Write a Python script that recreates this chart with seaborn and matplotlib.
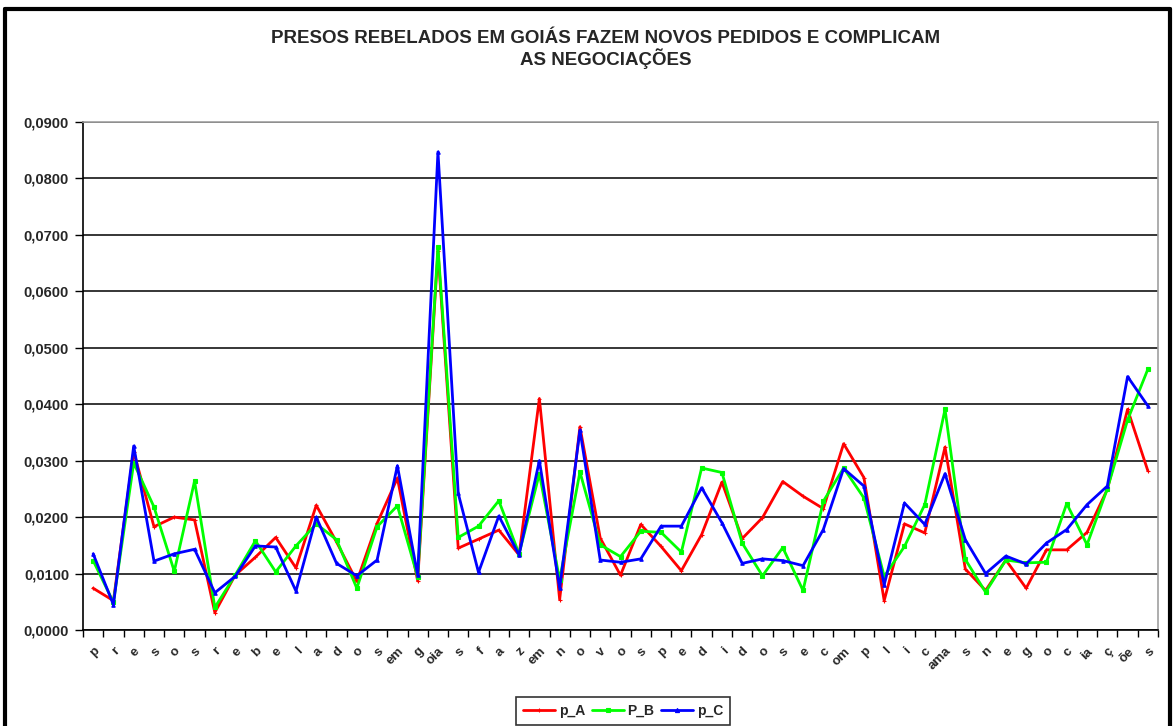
import numpy as np
import pandas as pd
import matplotlib
matplotlib.use("Agg")
import matplotlib.pyplot as plt
import seaborn as sns
from matplotlib.ticker import FuncFormatter, FixedLocator
from matplotlib.lines import Line2D

# ---------------- data ----------------
categories = ["p", "r", "e", "s", "o", "s", "r", "e", "b", "e", "l", "a", "d", "o", "s",
              "em", "g", "oia", "s", "f", "a", "z", "em", "n", "o", "v", "o", "s",
              "p", "e", "d", "i", "d", "o", "s", "e", "c", "om", "p", "l", "i", "c",
              "ama", "s", "n", "e", "g", "o", "c", "ia", "ç", "õe", "s"]

p_A = [0.0074, 0.0052, 0.0316, 0.0183, 0.0200, 0.0195, 0.0031, 0.0097, 0.0129, 0.0164,
       0.0110, 0.0221, 0.0156, 0.0086, 0.0189, 0.0269, 0.0087, 0.0672, 0.0145, 0.0161,
       0.0177, 0.0133, 0.0410, 0.0054, 0.0360, 0.0163, 0.0097, 0.0187, 0.0148, 0.0105,
       0.0169, 0.0262, 0.0162, 0.0199, 0.0263, 0.0237, 0.0215, 0.0330, 0.0270, 0.0052,
       0.0188, 0.0172, 0.0324, 0.0108, 0.0070, 0.0124, 0.0074, 0.0142, 0.0142, 0.0173,
       0.0249, 0.0391, 0.0282]

P_B = [0.0123, 0.0049, 0.0296, 0.0218, 0.0104, 0.0264, 0.0040, 0.0097, 0.0158, 0.0103,
       0.0149, 0.0188, 0.0160, 0.0074, 0.0183, 0.0220, 0.0094, 0.0679, 0.0164, 0.0184,
       0.0229, 0.0135, 0.0277, 0.0089, 0.0280, 0.0151, 0.0130, 0.0175, 0.0173, 0.0138,
       0.0287, 0.0279, 0.0154, 0.0096, 0.0146, 0.0070, 0.0228, 0.0287, 0.0234, 0.0095,
       0.0148, 0.0222, 0.0391, 0.0125, 0.0067, 0.0124, 0.0119, 0.0120, 0.0224, 0.0151,
       0.0250, 0.0372, 0.0462]

p_C = [0.0135, 0.0045, 0.0326, 0.0122, 0.0135, 0.0143, 0.0066, 0.0095, 0.0149, 0.0147,
       0.0069, 0.0200, 0.0118, 0.0096, 0.0124, 0.0291, 0.0097, 0.0847, 0.0242, 0.0102,
       0.0202, 0.0133, 0.0300, 0.0074, 0.0354, 0.0124, 0.0120, 0.0126, 0.0184, 0.0184,
       0.0252, 0.0190, 0.0118, 0.0126, 0.0123, 0.0114, 0.0178, 0.0286, 0.0255, 0.0080,
       0.0225, 0.0187, 0.0277, 0.0160, 0.0100, 0.0131, 0.0117, 0.0154, 0.0178, 0.0222,
       0.0255, 0.0449, 0.0397]

series_names = ["p_A", "P_B", "p_C"]
series_colors = ["#FF0000", "#00FF00", "#0000FF"]
series_markers = ["+", "s", "^"]
title = "PRESOS REBELADOS EM GOIÁS FAZEM NOVOS PEDIDOS E COMPLICAM\nAS NEGOCIAÇÕES"
y_ticks = [0.0, 0.01, 0.02, 0.03, 0.04, 0.05, 0.06, 0.07, 0.08, 0.09]

# ---------------- frame ----------------
idx = np.arange(len(categories))
df = pd.DataFrame({
    "idx": np.concatenate([idx, idx, idx]),
    "value": np.concatenate([p_A, P_B, p_C]),
    "series": np.repeat(series_names, len(categories)),
})

sns.set_theme(style="white")
plt.rcParams["font.family"] = ["Liberation Sans", "DejaVu Sans"]

W, H = 1173, 726
fig = plt.figure(figsize=(W / 100, H / 100), dpi=100)
L, R, T, B = 83, 1158, 122, 630
ax = fig.add_axes([L / W, 1 - B / H, (R - L) / W, (B - T) / H])

for name, col, mk in zip(series_names, series_colors, series_markers):
    sub = df[df["series"] == name]
    sns.lineplot(data=sub, x="idx", y="value", color=col, marker=mk,
                 markersize=2.5, markeredgewidth=0.8, markeredgecolor=col,
                 linewidth=2, ax=ax, legend=False)

ax.set_xlim(-0.5, len(categories) - 0.5)
ax.set_ylim(0, 0.09)
ax.set_xlabel("")
ax.set_ylabel("")

# y axis
ax.yaxis.set_major_locator(FixedLocator(y_ticks))
ax.yaxis.set_major_formatter(FuncFormatter(lambda v, p: f"{v:.4f}".replace(".", ",")))
ax.grid(axis="y", color="black", linewidth=1.1)
ax.grid(axis="x", visible=False)
ax.set_axisbelow(True)
ax.tick_params(axis="y", direction="out", length=6, width=1, color="black",
               labelsize=10.5, pad=4, left=True)
for lab in ax.get_yticklabels():
    lab.set_fontweight("bold")

# x axis: tick marks at category boundaries, labels at centres
ax.set_xticks(idx)
ax.set_xticklabels(categories, rotation=45, ha="right", va="top",
                   rotation_mode="anchor", fontsize=9.5, fontweight="bold")
ax.tick_params(axis="x", which="major", length=0, pad=11)
ax.set_xticks(np.arange(-0.5, len(categories), 1.0), minor=True)
ax.tick_params(axis="x", which="minor", direction="out", length=5, width=1,
               color="black", bottom=True)

for s in ["left", "bottom"]:
    ax.spines[s].set_color("black")
    ax.spines[s].set_linewidth(1.2)
for s in ["top", "right"]:
    ax.spines[s].set_color("#A0A0A0")
    ax.spines[s].set_linewidth(1.2)

# title
fig.text(606 / W, 1 - 30 / H, title, ha="center", va="top",
         fontsize=13.5, fontweight="bold", linespacing=1.1)

# legend
handles = [Line2D([0], [0], color=c, linewidth=2, marker=m, markersize=3,
                  markeredgewidth=0.8, markeredgecolor=c)
           for c, m in zip(series_colors, series_markers)]
leg = fig.legend(handles, series_names, loc="upper center",
                 bbox_to_anchor=(623 / W, 1 - 697 / H), ncol=3, frameon=True,
                 fancybox=False, edgecolor="black", fontsize=10,
                 handlelength=2.3, handletextpad=0.25, columnspacing=0.5,
                 borderpad=0.5, borderaxespad=0.0)
leg.get_frame().set_linewidth(1.2)
for t in leg.get_texts():
    t.set_fontweight("bold")

# outer chart border (left, top, right)
bw = 3.0
fig.add_artist(Line2D([5 / W, 5 / W], [0, 1 - 9 / H], transform=fig.transFigure,
                      color="black", linewidth=bw))
fig.add_artist(Line2D([5 / W, 1170 / W], [1 - 9 / H, 1 - 9 / H],
                      transform=fig.transFigure, color="black", linewidth=bw))
fig.add_artist(Line2D([1170 / W, 1170 / W], [0, 1 - 9 / H], transform=fig.transFigure,
                      color="black", linewidth=bw))

fig.savefig("out.png", dpi=100)
